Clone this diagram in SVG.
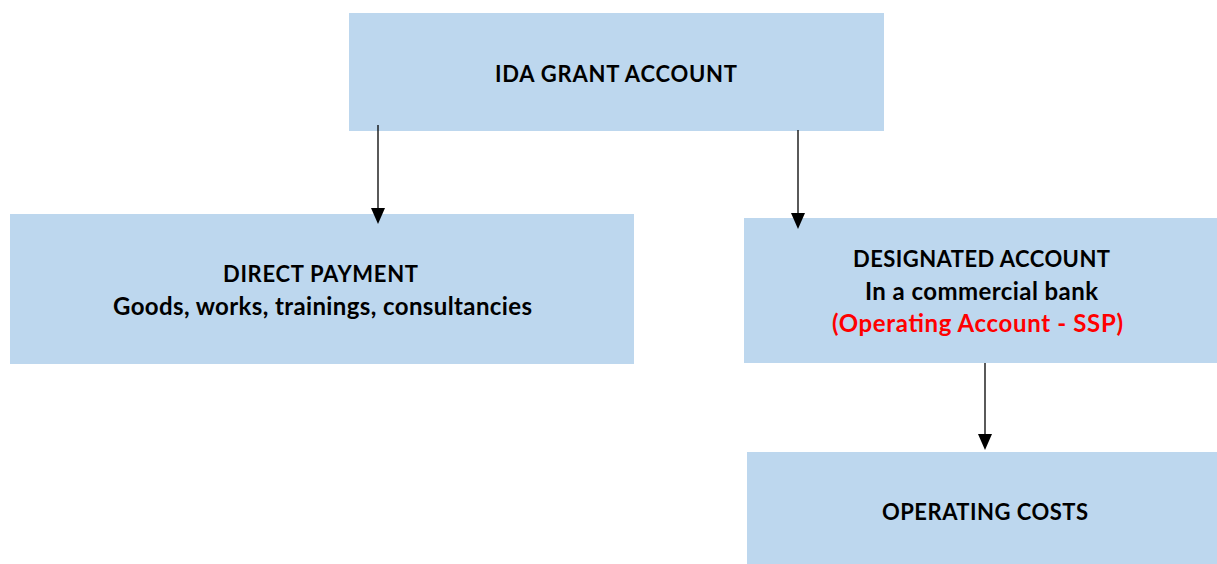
<svg xmlns="http://www.w3.org/2000/svg" width="1217" height="564" viewBox="0 0 1217 564">
<style>
.box{fill:#BDD7EE}
.t{font-family:Lato,"Liberation Sans",sans-serif;font-weight:bold;font-size:22px;fill:#000}
.lc{font-size:24px}
.red{fill:#FF0000}
.ln{stroke:#000;stroke-width:1.3;fill:none}
.hd{fill:#000}
</style>
<rect width="1217" height="564" fill="#fff"/>
<g id="ida">
<rect class="box" x="349" y="13" width="535" height="118"/>
<text class="t" x="495" y="82" textLength="242">IDA GRANT ACCOUNT</text>
</g>
<g id="direct">
<rect class="box" x="10" y="214" width="624" height="150"/>
<text class="t" x="223" y="282" textLength="195">DIRECT PAYMENT</text>
<text class="t lc" x="113" y="315" textLength="419">Goods, works, trainings, consultancies</text>
</g>
<g id="designated">
<rect class="box" x="744" y="218" width="473" height="145"/>
<text class="t" x="853" y="267" textLength="257">DESIGNATED ACCOUNT</text>
<text class="t lc" x="865" y="300" textLength="233">In a commercial bank</text>
<text class="t lc red" x="832" y="332" textLength="291">(Operating Account - SSP)</text>
</g>
<g id="operating">
<rect class="box" x="747" y="452" width="470" height="112"/>
<text class="t" x="882" y="520" textLength="206">OPERATING COSTS</text>
</g>
<g id="connectors">
<path class="ln" d="M378,125 V208"/>
<path class="hd" d="M371,208 L385,208 L378,224 Z"/>
<path class="ln" d="M798,130 V213"/>
<path class="hd" d="M791,213 L805,213 L798,229 Z"/>
<path class="ln" d="M985,363 V434"/>
<path class="hd" d="M978,434 L992,434 L985,450 Z"/>
</g>
</svg>
